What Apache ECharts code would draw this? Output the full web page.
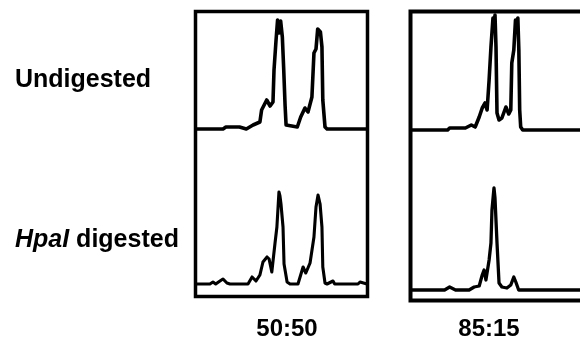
<!DOCTYPE html>
<html>
<head>
<meta charset="utf-8">
<script src="https://cdn.jsdelivr.net/npm/echarts@6/dist/echarts.min.js"></script>
<style>
html,body{margin:0;padding:0;background:#fff;}
#c{width:580px;height:341px;}
</style>
</head>
<body>
<div id="c"></div>
<script>
// Row and column labels
const rowLabels = ['Undigested', 'HpaI digested'];
const colLabels = ['50:50', '85:15'];

// Trace data: retention position (0-100) and signal intensity (arbitrary units)
const leftTopX = [0,15.3,17,25,29,33,37,38,41,43,44.7,45.3,46.5,47.4,48.3,49.2,50.2,51,51.8,52.4,53.5,59,61,63.5,65.3,67.6,68.8,70,71,71.8,72.6,73.5,74,75.3,76.5,100];
const leftTopY = [0,0,2,2,0,4,7,19,29,23,27,59,89,109,96,108,92,60,24,4,2,2,12,21,17,32,76,80,100,102,97,82,29,2,0,0];

const leftBotX = [0,7.6,9.4,11,13.5,15.3,17.6,19.4,30,32.4,34.7,37,38.8,41.2,42.4,44,45.9,47,48.2,48.8,49.4,50.6,51.2,53,54.7,59.4,62.4,64,66.5,68.8,70,71.2,71.8,72.4,73.5,74,75.3,76.5,80,81,94.7,95.9,97,100];
const leftBotY = [0,0,2,0,3,5,1,0,0,7,3,9,22,27,25,12,41,57,92,88,80,57,20,2,0,0,17,11,21,47,77,89,87,80,57,17,1,0,3,0,0,2,0,0];

const rightTopX = [0,21.2,22.4,31.8,35.3,37.6,40,41.8,43.5,44.7,45.9,47,48.2,48.8,49.4,50,50.6,51.8,53.5,55.9,57.6,58.8,59.4,60.6,61.6,62.3,63,63.6,64.1,64.7,65.9,100];
const rightTopY = [0,0,2,2,5,3,13,22,27,20,50,83,112,100,115,83,17,10,12,23,16,20,67,80,110,100,112,80,20,3,0,0];

const rightBotX = [0,19.4,22.4,25.9,34,37,40,41.8,42.9,44,45.9,47,47.6,48.8,49.4,50,50.6,51.8,53.5,56.5,58.8,60.6,61.8,63.5,100];
const rightBotY = [0,0,3,0,0,3,4,15,20,10,30,47,80,102,92,90,47,7,3,2,5,13,8,0,0];

function pairs(xs, ys){ return xs.map((x,i)=>[x, ys[i]]); }

const chart = echarts.init(document.getElementById('c'), null, {renderer:'canvas'});

const grids = [
  {left:197, width:170, top:9,   height:120},
  {left:197, width:170, top:164, height:120},
  {left:412, width:170, top:10,  height:120},
  {left:412, width:170, top:170, height:120}
];
const datasets = [
  pairs(leftTopX, leftTopY),
  pairs(leftBotX, leftBotY),
  pairs(rightTopX, rightTopY),
  pairs(rightBotX, rightBotY)
];
const widths = [3.6, 3.1, 3.6, 3.3];

const font = '"Liberation Sans", Arial, sans-serif';

chart.setOption({
  animation:false,
  backgroundColor:'#fff',
  grid: grids,
  xAxis: grids.map((g,i)=>({type:'value', gridIndex:i, min:0, max:100, show:false})),
  yAxis: grids.map((g,i)=>({type:'value', gridIndex:i, min:0, max:120, show:false})),
  series: datasets.map((d,i)=>({
    type:'line', xAxisIndex:i, yAxisIndex:i, data:d, symbol:'none', clip:false,
    lineStyle:{color:'#000', width:widths[i], join:'round'}
  })),
  graphic: [
    {type:'rect', shape:{x:195.5, y:11.5, width:172, height:285}, style:{fill:'none', stroke:'#000', lineWidth:3.5}},
    {type:'rect', shape:{x:410.5, y:11.5, width:180, height:289}, style:{fill:'none', stroke:'#000', lineWidth:4}},
    {type:'text', x:15, y:80, style:{text:rowLabels[0], font:'bold 25px '+font, fill:'#000', textVerticalAlign:'middle'}},
    {type:'text', x:15, y:240, style:{
      text:'{i|HpaI}{n| digested}', textVerticalAlign:'middle', fill:'#000',
      rich:{
        i:{fontFamily:font, fontSize:25, fontWeight:'bold', fontStyle:'italic', fill:'#000'},
        n:{fontFamily:font, fontSize:25, fontWeight:'bold', fill:'#000'}
      }
    }},
    {type:'text', x:287, y:329, style:{text:colLabels[0], font:'bold 24px '+font, fill:'#000', textAlign:'center', textVerticalAlign:'middle'}},
    {type:'text', x:489, y:329, style:{text:colLabels[1], font:'bold 24px '+font, fill:'#000', textAlign:'center', textVerticalAlign:'middle'}}
  ]
});
</script>
</body>
</html>
